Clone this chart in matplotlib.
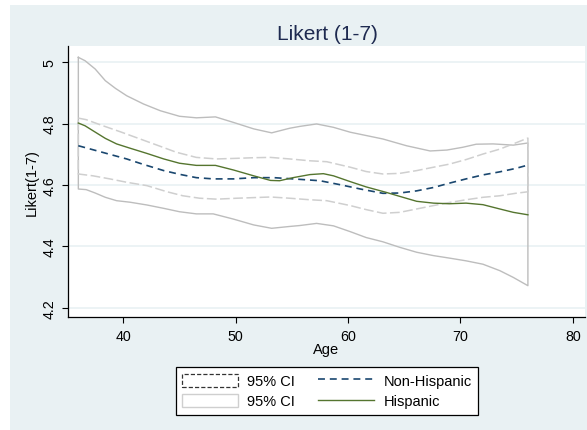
import numpy as np
import matplotlib
matplotlib.use("Agg")
import matplotlib.pyplot as plt
from matplotlib.patches import Patch, Rectangle
from matplotlib.lines import Line2D

plt.rcParams["font.family"] = ["Liberation Sans", "DejaVu Sans"]
plt.rcParams["lines.scale_dashes"] = False

# Non-Hispanic fit and 95% CI
ageNonHisp = [36.0, 37.3, 38.8, 40.3, 41.8, 43.6, 45.0, 46.5, 48.0, 49.8, 51.6, 53.4, 55.1,
              57.5, 59.3, 61.1, 63.1, 64.6, 66.1, 67.6, 69.0, 70.5, 72.0, 73.5, 74.9, 76.0]
nonHisp = [4.728, 4.715, 4.700, 4.685, 4.667, 4.647, 4.635, 4.624, 4.620, 4.620, 4.624, 4.624, 4.620,
           4.614, 4.601, 4.587, 4.573, 4.574, 4.581, 4.592, 4.606, 4.620, 4.633, 4.643, 4.654, 4.665]

ageNonHispUp = [36.0, 36.7, 38.2, 39.7, 41.5, 43.3, 44.7, 46.5, 48.3, 50.1, 51.6, 53.1, 54.8, 56.6,
                58.1, 60.2, 61.6, 63.1, 64.6, 66.1, 67.6, 69.0, 70.5, 72.0, 73.5, 74.9, 76.0]
nonHispUp = [4.818, 4.813, 4.793, 4.774, 4.750, 4.726, 4.707, 4.690, 4.685, 4.687, 4.689, 4.690, 4.685, 4.679,
             4.676, 4.658, 4.644, 4.636, 4.638, 4.647, 4.658, 4.668, 4.683, 4.701, 4.717, 4.737, 4.753]

ageNonHispLo = [36.0, 37.3, 38.8, 40.3, 42.1, 43.9, 45.3, 46.8, 48.3, 50.1, 51.6, 53.1, 54.8, 56.6,
                58.1, 60.2, 61.6, 63.1, 64.6, 66.1, 67.6, 69.0, 70.5, 72.0, 73.5, 74.9, 76.0]
nonHispLo = [4.636, 4.630, 4.620, 4.609, 4.598, 4.578, 4.565, 4.557, 4.554, 4.557, 4.559, 4.561, 4.557, 4.552,
             4.549, 4.533, 4.520, 4.508, 4.511, 4.522, 4.533, 4.543, 4.552, 4.560, 4.565, 4.573, 4.578]

# Hispanic fit and 95% CI
ageHisp = [36.0, 36.6, 37.3, 38.4, 39.4, 40.6, 42.1, 43.6, 45.0, 46.5, 48.2, 49.8, 51.6, 53.1, 53.9, 55.1,
           56.6, 57.8, 58.7, 60.2, 61.6, 63.4, 64.6, 66.1, 67.6, 69.0, 70.5, 72.0, 73.5, 74.7, 76.0]
hisp = [4.802, 4.793, 4.777, 4.752, 4.734, 4.720, 4.703, 4.685, 4.671, 4.664, 4.664, 4.649, 4.630, 4.615, 4.614, 4.624,
        4.634, 4.637, 4.630, 4.611, 4.594, 4.576, 4.563, 4.547, 4.541, 4.539, 4.541, 4.536, 4.522, 4.511, 4.503]

ageHispUp = [36.0, 36.6, 37.5, 38.4, 39.3, 40.3, 41.8, 43.3, 45.0, 46.5, 48.2, 49.8, 51.6, 53.2, 54.8,
             55.7, 57.2, 58.7, 60.2, 63.1, 65.2, 67.3, 68.8, 70.2, 71.4, 72.9, 74.7, 76.0]
hispUp = [5.016, 5.005, 4.978, 4.940, 4.915, 4.891, 4.864, 4.842, 4.824, 4.819, 4.822, 4.804, 4.783, 4.770, 4.785,
          4.791, 4.799, 4.788, 4.772, 4.750, 4.728, 4.711, 4.714, 4.723, 4.733, 4.734, 4.730, 4.737]

ageHispLo = [36.0, 36.7, 37.5, 38.4, 39.4, 40.6, 42.1, 43.6, 45.0, 46.5, 48.0, 49.8, 51.6, 53.2, 54.8, 55.7,
             57.2, 58.7, 60.2, 61.6, 63.1, 64.6, 66.1, 67.6, 69.0, 70.5, 72.0, 73.5, 74.7, 76.0]
hispLo = [4.587, 4.585, 4.574, 4.560, 4.549, 4.544, 4.535, 4.524, 4.513, 4.506, 4.506, 4.489, 4.470, 4.459, 4.465, 4.468,
          4.475, 4.467, 4.448, 4.429, 4.415, 4.397, 4.381, 4.370, 4.362, 4.353, 4.342, 4.321, 4.299, 4.272]

xTicks = [40, 50, 60, 70, 80]
yTicks = [4.2, 4.4, 4.6, 4.8, 5.0]
yTickLabels = ["4.2", "4.4", "4.6", "4.8", "5"]

BG = "#E9F1F3"
NAVY = "#1A476F"
GREEN = "#55752F"
CI_SOLID = "#BDBDBD"
CI_DASH = "#CFCFCF"
W, H = 587, 431


def ciOutline(xUp, yUp, xLo, yLo):
    xs = np.concatenate([xUp, xLo[::-1], xUp[:1]])
    ys = np.concatenate([yUp, yLo[::-1], yUp[:1]])
    return xs, ys


fig = plt.figure(figsize=(W / 100, H / 100), dpi=100)
fig.patch.set_facecolor("white")
fig.patches.append(Rectangle((10 / W, 0), 1 - 10 / W, 1 - 6 / H, transform=fig.transFigure,
                             facecolor=BG, edgecolor="none", zorder=-10))

ax = fig.add_axes([68 / W, (H - 318) / H, (585 - 68) / W, (318 - 47) / H])
ax.set_facecolor("white")

for y in yTicks:
    ax.axhline(y, color=BG, lw=1.2, zorder=0)

xs, ys = ciOutline(np.array(ageHispUp), np.array(hispUp), np.array(ageHispLo), np.array(hispLo))
ax.plot(xs, ys, color=CI_SOLID, lw=1.0, zorder=2)
xs, ys = ciOutline(np.array(ageNonHispUp), np.array(nonHispUp), np.array(ageNonHispLo), np.array(nonHispLo))
ax.plot(xs, ys, color=CI_DASH, lw=1.1, dashes=(7, 2.5), zorder=2)

ax.plot(ageNonHisp, nonHisp, color=NAVY, lw=1.2, dashes=(5, 3.5), zorder=3)
ax.plot(ageHisp, hisp, color=GREEN, lw=1.0, zorder=4)

ax.set_xlim(35.08, 81.08)
ax.set_ylim(4.170, 5.053)
ax.set_xticks(xTicks)
ax.set_yticks(yTicks)
ax.set_yticklabels(yTickLabels)
ax.tick_params(axis="both", direction="out", length=4, width=0.8, labelsize=10.3, colors="black")
ax.tick_params(axis="x", pad=5)
ax.tick_params(axis="y", pad=4)
for lbl in ax.get_yticklabels():
    lbl.set_rotation(90)
    lbl.set_va("center")

ax.spines["top"].set_visible(False)
ax.spines["right"].set_visible(False)
ax.spines["left"].set_linewidth(0.9)
ax.spines["bottom"].set_linewidth(0.9)

ax.set_xlabel("Age", fontsize=10.5)
ax.xaxis.set_label_coords(0.5, (318 - 343) / 271)
ax.set_ylabel("Likert(1-7)", fontsize=10.5)
ax.yaxis.set_label_coords((39 - 68) / 517, 0.5)

fig.text(327 / W, 1 - 34 / H, "Likert (1-7)", ha="center", va="center", fontsize=15, color="#1E2A50")

handles = [
    Patch(facecolor="white", edgecolor="#333333", linestyle=(0, (3, 1.5)), linewidth=0.9),
    Patch(facecolor="white", edgecolor=CI_DASH, linewidth=1.0),
    Line2D([0], [0], color=NAVY, lw=1.2, dashes=(5, 3.5)),
    Line2D([0], [0], color=GREEN, lw=1.0),
]
labels = ["95% CI", "95% CI", "Non-Hispanic", "Hispanic"]
leg = fig.legend(handles, labels, ncol=2, loc="center", bbox_to_anchor=(327 / W, 1 - 392 / H),
                 fontsize=10.5, frameon=True, fancybox=False, framealpha=1, edgecolor="black",
                 handlelength=3.8, handleheight=1.0, handletextpad=0.65, columnspacing=1.6,
                 labelspacing=0.4, borderpad=0.45)
leg.get_frame().set_linewidth(0.9)

fig.savefig("out.png", dpi=100)
